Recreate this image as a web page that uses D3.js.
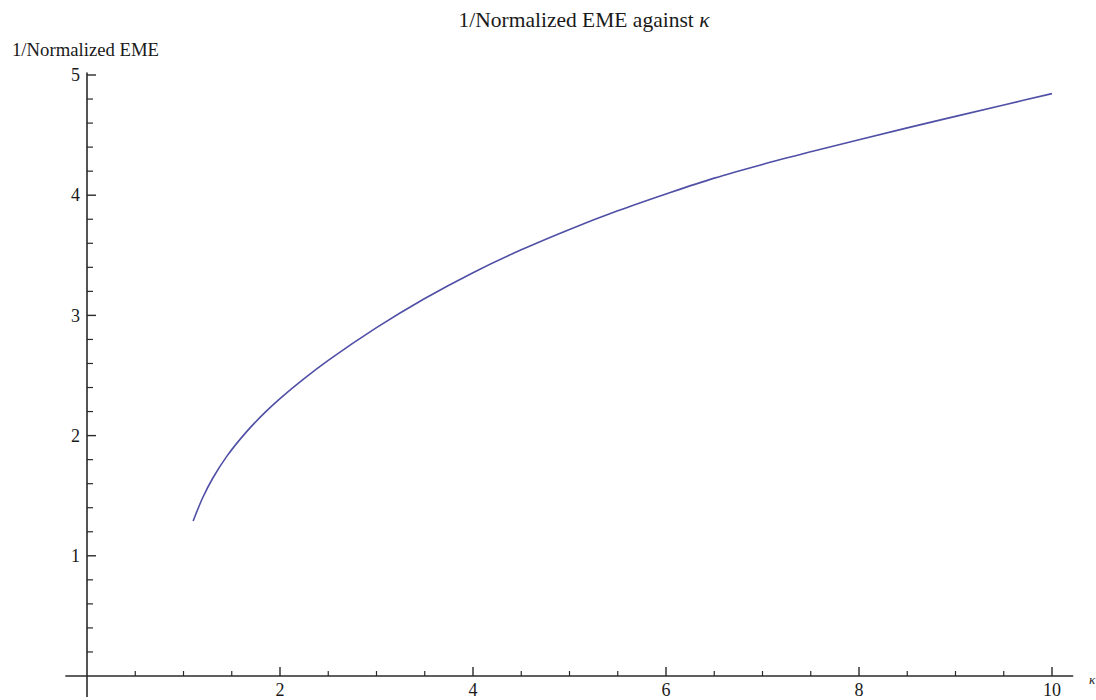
<!DOCTYPE html>
<html>
<head>
<meta charset="utf-8">
<script src="https://cdn.jsdelivr.net/npm/d3@7"></script>
<style>
  html, body { margin: 0; padding: 0; background: #fff; }
  svg { display: block; }
  text { font-family: "Liberation Serif", "DejaVu Serif", serif; fill: #1a1a1a; }
</style>
</head>
<body>
<svg id="chart" width="1096" height="700"></svg>
<script>
// ---- data ----
const kappa = [1.1, 1.2, 1.3, 1.45, 1.65, 1.85, 2.0, 2.25, 2.5, 3.0, 3.5, 4.0, 4.5, 5.0, 5.5, 6.0, 6.5, 7.0, 7.5, 8.0, 8.5, 9.0, 9.5, 10.0];
const invEME = [1.29, 1.485, 1.641, 1.829, 2.029, 2.197, 2.308, 2.474, 2.6255, 2.898, 3.1405, 3.3555, 3.5455, 3.7155, 3.87, 4.01, 4.142, 4.256, 4.361, 4.462, 4.56, 4.656, 4.751, 4.845];
const xMajorTicks = [2, 4, 6, 8, 10];
const xTickLabels = ["2", "4", "6", "8", "10"];
const yMajorTicks = [1, 2, 3, 4, 5];
const yTickLabels = ["1", "2", "3", "4", "5"];
const titleText = "1/Normalized EME against ";
const titleSymbol = "κ";
const yLabelText = "1/Normalized EME";
const xLabelText = "κ";

const svg = d3.select("#chart");

const x = d3.scaleLinear().domain([0, 10]).range([87, 1052]);
const y = d3.scaleLinear().domain([0, 5]).range([676, 75]);

const axisColor = "#2a2a2a";

// minor tick values
const xMinor = d3.range(0.5, 10.01, 0.5).filter(v => !xMajorTicks.some(m => Math.abs(m - v) < 1e-6));
const yMinor = d3.range(0.2, 5.001, 0.2).filter(v => !yMajorTicks.some(m => Math.abs(m - v) < 1e-6));

// x axis line
svg.append("line")
  .attr("x1", x(-0.225)).attr("x2", x(10.22))
  .attr("y1", y(0)).attr("y2", y(0))
  .attr("stroke", axisColor).attr("stroke-width", 1.6);

// y axis line
svg.append("line")
  .attr("x1", x(0)).attr("x2", x(0))
  .attr("y1", y(5.02)).attr("y2", y(-0.175))
  .attr("stroke", axisColor).attr("stroke-width", 1.6);

// x ticks (pointing up)
svg.append("g").selectAll("line").data(xMajorTicks).join("line")
  .attr("x1", d => x(d)).attr("x2", d => x(d))
  .attr("y1", y(0)).attr("y2", y(0) - 9)
  .attr("stroke", axisColor).attr("stroke-width", 1.4);
svg.append("g").selectAll("line").data(xMinor).join("line")
  .attr("x1", d => x(d)).attr("x2", d => x(d))
  .attr("y1", y(0)).attr("y2", y(0) - 5)
  .attr("stroke", axisColor).attr("stroke-width", 1.2);

// y ticks (pointing right)
svg.append("g").selectAll("line").data(yMajorTicks).join("line")
  .attr("x1", x(0)).attr("x2", x(0) + 9)
  .attr("y1", d => y(d)).attr("y2", d => y(d))
  .attr("stroke", axisColor).attr("stroke-width", 1.4);
svg.append("g").selectAll("line").data(yMinor).join("line")
  .attr("x1", x(0)).attr("x2", x(0) + 6)
  .attr("y1", d => y(d)).attr("y2", d => y(d))
  .attr("stroke", axisColor).attr("stroke-width", 1.2);

// tick labels
svg.append("g").selectAll("text").data(xMajorTicks).join("text")
  .attr("x", d => x(d)).attr("y", y(0) + 20)
  .attr("text-anchor", "middle")
  .attr("font-size", 18)
  .text((d, i) => xTickLabels[i]);

svg.append("g").selectAll("text").data(yMajorTicks).join("text")
  .attr("x", x(0) - 7).attr("y", d => y(d))
  .attr("dy", "0.34em")
  .attr("text-anchor", "end")
  .attr("font-size", 18)
  .text((d, i) => yTickLabels[i]);

// curve
const line = d3.line()
  .x((d, i) => x(kappa[i]))
  .y(d => y(d))
  .curve(d3.curveCatmullRom.alpha(0.5));

svg.append("path")
  .datum(invEME)
  .attr("d", line)
  .attr("fill", "none")
  .attr("stroke", "#4f4fa6")
  .attr("stroke-width", 1.6);

// title
const title = svg.append("text")
  .attr("x", 584).attr("y", 27)
  .attr("text-anchor", "middle")
  .attr("font-size", 21.5);
title.append("tspan").text(titleText);
title.append("tspan").attr("font-style", "italic").text(titleSymbol);

// y label
svg.append("text")
  .attr("x", 12).attr("y", 56)
  .attr("font-size", 18)
  .attr("textLength", 147)
  .attr("lengthAdjust", "spacingAndGlyphs")
  .text(yLabelText);

// x label
svg.append("text")
  .attr("x", 1089).attr("y", 684)
  .attr("font-size", 13)
  .attr("font-style", "italic")
  .text(xLabelText);
</script>
</body>
</html>
